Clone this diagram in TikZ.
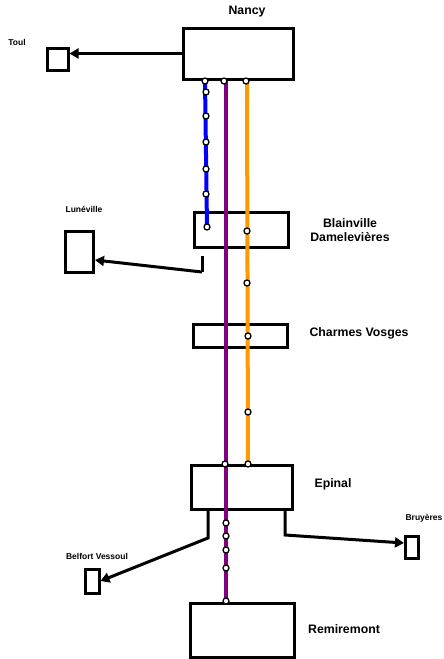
\documentclass[tikz,border=0pt]{standalone}
\usepackage{fontspec}
\setmainfont{Liberation Sans}
\usetikzlibrary{arrows.meta}
\definecolor{linepurple}{RGB}{128,0,128}
\definecolor{lineorange}{RGB}{255,153,0}

\begin{document}
\begin{tikzpicture}[
    x=1pt, y=-1pt,
    station/.style={
        rectangle,
        draw=black,
        fill=white,
        line width=3pt,
        inner sep=0pt
    },
    city/.style={
        font=\bfseries\fontsize{12.3}{14}\selectfont,
        align=center
    },
    town/.style={font=\bfseries\fontsize{8.5}{10}\selectfont},
    link/.style={line width=3pt},
    arrow/.style={-{Triangle[length=9pt,width=10pt]}, line width=3pt},
    stop/.style={
        circle,
        draw=black,
        fill=white,
        line width=1.3pt,
        inner sep=0pt,
        minimum size=6pt
    },
    line/.style={line width=4pt}
]

\useasboundingbox (0,0) rectangle (444,659);

% stations
\node[station, minimum width=110pt, minimum height=51pt] (Nancy) at (238,53.5) {};
\node[station, minimum width=21pt, minimum height=22pt] (Toul) at (57.5,59) {};
\node[station, minimum width=94pt, minimum height=35pt] (Blainville) at (241,229.5) {};
\node[station, minimum width=28pt, minimum height=41pt] (Luneville) at (79,251.5) {};
\node[station, minimum width=94pt, minimum height=23pt] (Charmes) at (240,335.5) {};
\node[station, minimum width=101pt, minimum height=44pt] (Epinal) at (241.5,487) {};
\node[station, minimum width=14pt, minimum height=24pt] (Belfort) at (92,581) {};
\node[station, minimum width=13pt, minimum height=22pt] (Bruyeres) at (411.5,547) {};
\node[station, minimum width=104pt, minimum height=54pt] (Remiremont) at (242,630) {};

% labels
\node[city] (lNancy) at (247,12) {Nancy};
\node[city] (lBlainville) at (350,230) {Blainville\\Damelevières};
\node[city] (lCharmes) at (359,333) {Charmes Vosges};
\node[city] (lEpinal) at (333,484) {Epinal};
\node[city] (lRemiremont) at (344,629) {Remiremont};
\node[town] (lToul) at (17,42) {Toul};
\node[town] (lLuneville) at (84,209) {Lunéville};
\node[town] (lBelfort) at (97,556) {Belfort Vessoul};
\node[town] (lBruyeres) at (424,518) {Bruyères};

% branches
\coordinate (lt) at (202,256);
\coordinate (lb) at (202,272);
\coordinate (le) at (95,260);
\coordinate (ew) at (208,510);
\coordinate (ewb) at (208,538);
\coordinate (ee) at (285,510);
\coordinate (eeb) at (285,535);
\coordinate (be) at (404,543);

\draw[arrow] (Nancy.west) -- (Toul.east |- Nancy.west);
\draw[link] (lt) -- (lb);
\draw[arrow] (lb) -- (le);
\draw[arrow] (ew) -- (ewb) -- (Belfort.east);
\draw[arrow] (ee) -- (eeb) -- (be);

% line ends
\coordinate (b1) at (205,81);
\coordinate (b7) at (207,227);
\coordinate (p1) at (226,81);
\coordinate (p7) at (226,602);
\coordinate (o1) at (247,81);
\coordinate (o6) at (248,464);

% lines
\draw[line, blue] (b1) -- (b7);
\draw[line, linepurple] (p1) -- (p7);
\draw[line, lineorange] (o1) -- (o6);

% stops
\foreach \x/\y [count=\i] in {205/81, 206/92, 206/116, 206/142, 206/169, 206/194, 207/227}
    \node[stop] (sb\i) at (\x,\y) {};
\foreach \x/\y [count=\i] in {224/81, 225/464, 226/523, 226/536, 226/550, 226/568, 226/601}
    \node[stop] (sp\i) at (\x,\y) {};
\foreach \x/\y [count=\i] in {246/81, 247/231, 247/283, 248/336, 248/412, 248/464}
    \node[stop] (so\i) at (\x,\y) {};

\end{tikzpicture}
\end{document}
